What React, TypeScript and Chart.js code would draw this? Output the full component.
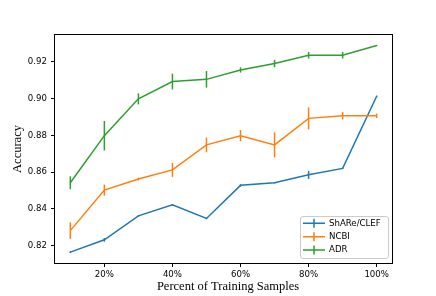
import React, { useEffect, useRef } from "react";
import { Chart, registerables } from "chart.js";

Chart.register(...registerables);

const percents = [10, 20, 30, 40, 50, 60, 70, 80, 90, 100];
const seriesNames = ["ShARe/CLEF", "NCBI", "ADR"];
const seriesColors = ["#1f77b4", "#ff7f0e", "#2ca02c"];

const shareValues = [0.8165, 0.8232, 0.8362, 0.8422, 0.8348, 0.8528, 0.8542, 0.8585, 0.862, 0.9012];
const shareErrors = [0.0005, 0.001, 0.0004, 0.0004, 0.0004, 0.0006, 0.0004, 0.0022, 0.0004, 0.0004];
const ncbiValues = [0.8282, 0.8502, 0.8562, 0.8612, 0.8748, 0.8798, 0.8748, 0.8892, 0.8906, 0.8906];
const ncbiErrors = [0.0045, 0.003, 0.0008, 0.0038, 0.004, 0.003, 0.0068, 0.006, 0.002, 0.0012];
const adrValues = [0.8542, 0.8798, 0.8998, 0.9092, 0.9104, 0.9155, 0.919, 0.9235, 0.9235, 0.9288];
const adrErrors = [0.0035, 0.008, 0.003, 0.0043, 0.0045, 0.0014, 0.002, 0.0018, 0.0018, 0.0003];

const seriesValues = [shareValues, ncbiValues, adrValues];
const seriesErrors = [shareErrors, ncbiErrors, adrErrors];

const xTicks = [20, 40, 60, 80, 100];
const yTicks = [0.82, 0.84, 0.86, 0.88, 0.9, 0.92];
const xTitle = "Percent of Training Samples";
const yTitle = "Accuracy";

const SANS = "'DejaVu Sans'";
const SERIF = "'Liberation Serif'";

const errorBarPlugin = {
  id: "errorBarsAndDecor",
  afterDatasetsDraw(chart: any) {
    const ctx = chart.ctx;
    const xs = chart.scales.x;
    const ys = chart.scales.y;
    chart.data.datasets.forEach((ds: any, i: number) => {
      const errs = seriesErrors[i];
      ctx.save();
      ctx.strokeStyle = ds.borderColor;
      ctx.lineWidth = 1.5;
      ds.data.forEach((p: any, j: number) => {
        const px = xs.getPixelForValue(p.x);
        ctx.beginPath();
        ctx.moveTo(px, ys.getPixelForValue(p.y - errs[j]));
        ctx.lineTo(px, ys.getPixelForValue(p.y + errs[j]));
        ctx.stroke();
      });
      ctx.restore();
    });
  },
  afterDraw(chart: any) {
    const ctx = chart.ctx;
    const a = chart.chartArea;
    ctx.save();
    // frame
    ctx.strokeStyle = "#000";
    ctx.lineWidth = 1;
    ctx.strokeRect(Math.round(a.left) - 0.5, Math.round(a.top) - 0.5, Math.round(a.right - a.left) + 1, Math.round(a.bottom - a.top) + 1);
    // axis titles
    ctx.fillStyle = "#000";
    ctx.font = `12.5px ${SERIF}`;
    ctx.textAlign = "center";
    ctx.textBaseline = "middle";
    ctx.fillText(xTitle, 228, 287);
    ctx.save();
    ctx.translate(18, 149);
    ctx.rotate(-Math.PI / 2);
    ctx.fillText(yTitle, 0, 0);
    ctx.restore();
    // legend
    const bx = 300.5, by = 216.5, bw = 88, bh = 42;
    ctx.beginPath();
    ctx.roundRect(bx, by, bw, bh, 2.5);
    ctx.fillStyle = "rgba(255,255,255,0.8)";
    ctx.fill();
    ctx.strokeStyle = "#cccccc";
    ctx.stroke();
    const rows = [223.3, 236.7, 250];
    ctx.font = `8.6px ${SANS}`;
    ctx.textAlign = "left";
    seriesNames.forEach((name, i) => {
      const cy = rows[i];
      ctx.strokeStyle = seriesColors[i];
      ctx.lineWidth = 1.5;
      ctx.beginPath();
      ctx.moveTo(303, cy);
      ctx.lineTo(325, cy);
      ctx.moveTo(314, cy - 4.5);
      ctx.lineTo(314, cy + 4.5);
      ctx.stroke();
      ctx.fillStyle = "#000";
      ctx.fillText(name, 329, cy);
    });
    ctx.restore();
  },
};

export default function App() {
  const ref = useRef<HTMLCanvasElement | null>(null);
  useEffect(() => {
    if (!ref.current) return;
    const chart = new Chart(ref.current, {
      type: "line",
      data: {
        datasets: seriesNames.map((name, i) => ({
          label: name,
          data: percents.map((p, j) => ({ x: p, y: seriesValues[i][j] })),
          borderColor: seriesColors[i],
          backgroundColor: seriesColors[i],
          borderWidth: 1.5,
          pointRadius: 0,
          tension: 0,
          fill: false,
          order: 3 - i,
        })),
      },
      options: {
        animation: false,
        responsive: false,
        devicePixelRatio: 1,
        layout: { padding: { left: 0, top: 35, right: 44, bottom: 0 } },
        plugins: { legend: { display: false }, tooltip: { enabled: false } },
        scales: {
          x: {
            type: "linear",
            min: 5.5,
            max: 104.5,
            afterBuildTicks: (s: any) => {
              s.ticks = xTicks.map((v) => ({ value: v }));
            },
            afterFit: (s: any) => {
              s.height = 33;
            },
            grid: { drawOnChartArea: false, drawTicks: true, tickLength: 4, color: "#000", lineWidth: 1 },
            border: { display: false },
            ticks: {
              autoSkip: false,
              maxRotation: 0,
              padding: 3,
              color: "#000",
              font: { family: SANS, size: 8.6 },
              callback: (v: any) => `${v}%`,
            },
          },
          y: {
            type: "linear",
            min: 0.8106,
            max: 0.9345,
            afterBuildTicks: (s: any) => {
              s.ticks = yTicks.map((v) => ({ value: v }));
            },
            afterFit: (s: any) => {
              s.width = 55;
            },
            grid: { drawOnChartArea: false, drawTicks: true, tickLength: 4, color: "#000", lineWidth: 1 },
            border: { display: false },
            ticks: {
              autoSkip: false,
              padding: 4,
              color: "#000",
              font: { family: SANS, size: 8.6 },
              callback: (v: any) => Number(v).toFixed(2),
            },
          },
        },
      },
      plugins: [errorBarPlugin],
    });
    return () => chart.destroy();
  }, []);
  return (
    <div style={{ position: "fixed", left: 0, top: 0, width: 436, height: 296, background: "#fff" }}>
      <canvas ref={ref} width={436} height={296} style={{ width: 436, height: 296 }} />
    </div>
  );
}
